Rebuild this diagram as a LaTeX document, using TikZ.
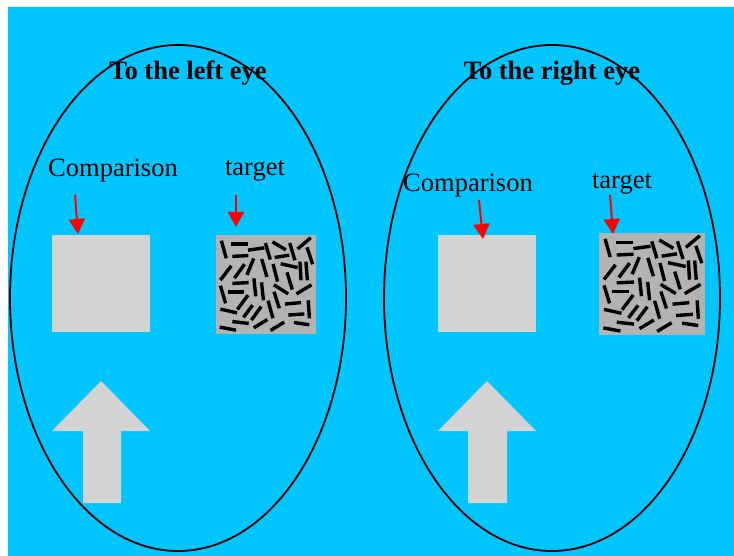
\documentclass[tikz,border=0pt]{standalone}
\usepackage{fontspec}
\setmainfont{Liberation Serif}
\usetikzlibrary{arrows.meta}
\definecolor{bgblue}{HTML}{00C5FF}
\definecolor{lightbox}{HTML}{D3D3D3}
\definecolor{texbox}{HTML}{B3B3B3}
\tikzset{
  lbl/.style={font=\fontsize{26.5}{30}\selectfont, anchor=base, inner sep=0pt},
  ttl/.style={font=\fontsize{26.5}{30}\selectfont\bfseries, anchor=base, inner sep=0pt},
  compbox/.style={fill=lightbox, inner sep=0pt, minimum width=98pt, minimum height=97pt},
  tgtbox/.style={fill=texbox, inner sep=0pt},
  redarrow/.style={draw=red, line width=2pt, -{Triangle[length=15pt,width=16pt]}, red},
  eyeoval/.style={draw=black, line width=1.8pt},
  barline/.style={line width=3.4pt, black, shorten <=-1pt, shorten >=-1pt},
  bigarrow/.style={fill=lightbox}
}
\newcommand{\texpattern}{%
  \foreach \a/\b/\c/\d in {
    65/65/78/112, 97/72/140/72, 100/109/142/107, 147/90/190/84, 197/72/210/116,
    220/67/255/88, 227/112/265/106, 270/72/284/118, 295/85/330/55, 322/85/337/130,
    63/178/92/140, 105/172/132/135, 142/162/160/118, 186/120/200/168, 220/135/232/182,
    245/132/290/142, 262/160/276/206, 300/128/303/178, 318/128/322/178, 100/190/143/188,
    62/200/76/247, 86/216/128/216, 162/178/167/226, 185/190/190/238, 224/196/262/220,
    292/220/332/196, 114/266/142/228, 223/218/237/262, 258/252/300/248, 325/244/328/292,
    64/268/108/278, 132/290/156/258, 156/298/182/262, 205/245/218/292, 268/285/310/282,
    100/305/143/310, 164/322/200/300, 214/330/250/308, 285/308/325/314, 62/322/105/330}
  {\draw[barline] (\a,\b) -- (\c,\d);}%
}
\begin{document}
\begin{tikzpicture}[x=1pt,y=-1pt]
\useasboundingbox (0,0) rectangle (734,556);
\fill[white] (0,0) rectangle (734,556);
\fill[bgblue] (8,7) rectangle (734,556);

% ovals
\draw[eyeoval] (178,298) ellipse [x radius=168pt, y radius=253pt];
\draw[eyeoval] (552,298) ellipse [x radius=168pt, y radius=253pt];

% titles
\node[ttl] (tleft) at (188,80) {To the left eye};
\node[ttl] (tright) at (552,80) {To the right eye};

% labels
\node[lbl] (lcomplbl) at (113,177) {Comparison};
\node[lbl] (ltgtlbl) at (255,176) {target};
\node[lbl] (rcomplbl) at (468,192) {Comparison};
\node[lbl] (rtgtlbl) at (622,189) {target};

% boxes
\node[compbox] (lcomp) at (101,283.5) {};
\node[compbox] (rcomp) at (487,283.5) {};
\node[tgtbox, minimum width=100pt, minimum height=99pt] (ltgt) at (266,284.5) {};
\node[tgtbox, minimum width=106pt, minimum height=102pt] (rtgt) at (652,284) {};

% texture
\begin{scope}[shift={(200pt,-220pt)}, x=0.3333pt, y=-0.3333pt]
  \texpattern
\end{scope}
\begin{scope}[shift={(582.4pt,-217.55pt)}, x=0.3533pt, y=-0.3434pt]
  \texpattern
\end{scope}

% red arrows
\coordinate (la1) at (75,195);  \coordinate (la2) at (78,234);
\coordinate (lb1) at (236,195); \coordinate (lb2) at (236,227);
\coordinate (ra1) at (479,200); \coordinate (ra2) at (483,239);
\coordinate (rb1) at (610,195); \coordinate (rb2) at (613,234);
\draw[redarrow] (la1) -- (la2);
\draw[redarrow] (lb1) -- (lb2);
\draw[redarrow] (ra1) -- (ra2);
\draw[redarrow] (rb1) -- (rb2);

% big up arrows
\fill[bigarrow] (101,381) -- (150,431) -- (121,431) -- (121,503) -- (83,503) -- (83,431) -- (52,431) -- cycle;
\fill[bigarrow] (487,381) -- (536,431) -- (507,431) -- (507,503) -- (468,503) -- (468,431) -- (438,431) -- cycle;
\end{tikzpicture}
\end{document}
